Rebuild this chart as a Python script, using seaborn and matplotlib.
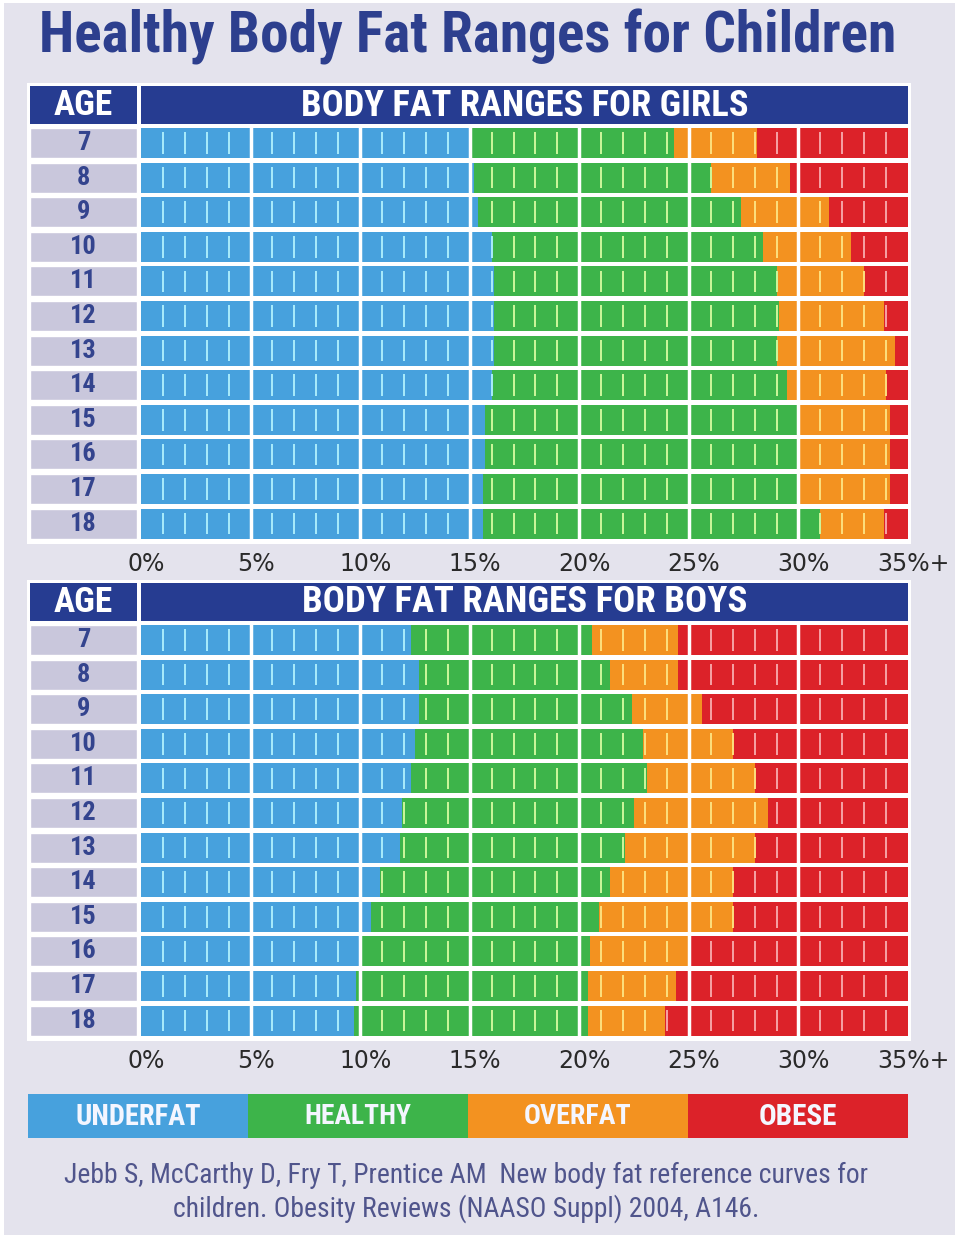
import matplotlib
matplotlib.use('Agg')
import matplotlib.pyplot as plt
import seaborn as sns
import pandas as pd
from matplotlib import font_manager
from matplotlib.patches import Rectangle

# data (body fat %, upper edge of each band)
ages = ['7', '8', '9', '10', '11', '12', '13', '14', '15', '16', '17', '18']
girls_underfat = [15.0, 15.2, 15.4, 16.0, 16.1, 16.1, 16.1, 16.0, 15.7, 15.7, 15.6, 15.6]
girls_healthy = [24.3, 26.0, 27.4, 28.4, 29.0, 29.1, 29.0, 29.5, 30.0, 30.0, 30.0, 31.0]
girls_overfat = [28.1, 29.6, 31.4, 32.4, 33.0, 33.9, 34.4, 34.0, 34.2, 34.2, 34.2, 33.9]
boys_underfat = [12.3, 12.7, 12.7, 12.5, 12.3, 11.9, 11.8, 10.9, 10.5, 10.0, 9.8, 9.7]
boys_healthy = [20.6, 21.4, 22.4, 22.9, 23.1, 22.5, 22.1, 21.4, 20.9, 20.5, 20.4, 20.4]
boys_overfat = [24.5, 24.5, 25.6, 27.0, 28.0, 28.6, 28.0, 27.0, 27.0, 25.0, 24.4, 23.9]
x_ticks = [0, 5, 10, 15, 20, 25, 30, 35]
x_tick_labels = ['0%', '5%', '10%', '15%', '20%', '25%', '30%', '35%+']
categories = ['UNDERFAT', 'HEALTHY', 'OVERFAT', 'OBESE']

colors = ['#47a1dd', '#3db44a', '#f39220', '#dc2229']
tints = ['#a9ecfb', '#cdf79c', '#fde07e', '#f6a3a6']
navy = '#263c91'
bg = '#e4e3ed'
lavender = '#c9c7dc'

sns.set_theme(style='white')
names = {f.name for f in font_manager.fontManager.ttflist}
narrow = next((n for n in ['Liberation Sans Narrow', 'Roboto Condensed', 'DejaVu Sans']
               if n in names), 'DejaVu Sans')
plt.rcParams['font.family'] = ['DejaVu Sans']

W, H = 960, 1242
fig = plt.figure(figsize=(W / 100, H / 100), dpi=100, facecolor='white')


def px_axes(x0, y0, x1, y1):
    return fig.add_axes([x0 / W, 1 - y1 / H, (x1 - x0) / W, (y1 - y0) / H])


def px_rect(x0, y0, x1, y1, color, z=0):
    fig.add_artist(Rectangle((x0 / W, 1 - y1 / H), (x1 - x0) / W, (y1 - y0) / H,
                             transform=fig.transFigure, color=color, zorder=z, lw=0))


def px_text(x, y, s, **kw):
    return fig.text(x / W, 1 - y / H, s, ha='center', va='center', **kw)


def fit(t, width):
    r = fig.canvas.get_renderer()
    w = t.get_window_extent(r).width
    t.set_fontsize(t.get_fontsize() * width / w)


px_rect(4, 3, 955, 1235, bg, z=-5)

title = px_text(468, 37, 'Healthy Body Fat Ranges for Children', color='#2d3f8e',
                fontweight='bold', family=narrow, fontstretch='condensed', fontsize=34)
fit(title, 857)


def draw_panel(top, heading, under, healthy, over):
    # white frame and header
    px_rect(27, top - 3, 911, top + 458, 'white', z=-4)
    px_rect(30, top, 137, top + 38, navy, z=-3)
    px_rect(141, top, 908, top + 38, navy, z=-3)
    t = px_text(83.5, top + 19.5, 'AGE', color='white', fontsize=19, fontweight='bold',
                family=narrow, fontstretch='condensed')
    fit(t, 59)
    t = px_text(524.5, top + 19.5, heading, color='white', fontweight='bold',
                family=narrow, fontstretch='condensed', fontsize=19)
    fit(t, 446)

    y0, y1 = top + 39.7, top + 39.7 + 34.6 * len(ages)
    df = pd.DataFrame({'age': ages, 'underfat': under, 'healthy': healthy,
                       'overfat': over, 'obese': [x_ticks[-1]] * len(ages)})

    # age column
    age_ax = px_axes(30, y0, 137, y1)
    sns.barplot(data=df, x=[1] * len(ages), y='age', order=ages, orient='h',
                color=lavender, saturation=1, width=0.867, errorbar=None, ax=age_ax)
    age_ax.set_xlim(0, 1)
    age_ax.set_ylim(len(ages) - 0.5, -0.5)
    age_ax.set_facecolor('white')
    age_ax.axis('off')
    for i, a in enumerate(ages):
        age_ax.text(0.5, i, a, ha='center', va='center', color='#34448e',
                    fontsize=19, fontweight='bold', family=narrow)

    # stacked bands drawn back to front
    ax = px_axes(141, y0, 908, y1)
    for col, c in zip(['obese', 'overfat', 'healthy', 'underfat'], colors[::-1]):
        sns.barplot(data=df, x=col, y='age', order=ages, orient='h', color=c,
                    saturation=1, width=0.867, errorbar=None, ax=ax, linewidth=0)
    ax.set_xlim(x_ticks[0], x_ticks[-1])
    ax.set_ylim(len(ages) - 0.5, -0.5)
    ax.set_facecolor('white')
    for s in ax.spines.values():
        s.set_visible(False)
    ax.set_xlabel('')
    ax.set_ylabel('')
    ax.set_yticks([])
    ax.vlines(x_ticks[1:-1], -0.5, len(ages) - 0.5, color='white', lw=2.5, zorder=5)

    # 1% minor ticks, tinted by the band they sit in
    xs, ymin, ymax, cs = [], [], [], []
    for i in range(len(ages)):
        edges = [under[i], healthy[i], over[i]]
        for k in range(x_ticks[0] + 1, x_ticks[-1]):
            if k % 5 == 0:
                continue
            band = sum(k > e for e in edges)
            xs.append(k)
            ymin.append(i - 0.31)
            ymax.append(i + 0.31)
            cs.append(tints[band])
    ax.vlines(xs, ymin, ymax, colors=cs, lw=1.4, zorder=4)

    ax.set_xticks(x_ticks)
    ax.set_xticklabels(x_tick_labels)
    ax.tick_params(axis='x', length=0, pad=8, labelsize=17, labelcolor='#2a2a2a')
    off = matplotlib.transforms.ScaledTranslation(5 / 100, 0, fig.dpi_scale_trans)
    for lab in ax.get_xticklabels():
        lab.set_transform(lab.get_transform() + off)


draw_panel(86, 'BODY FAT RANGES FOR GIRLS', girls_underfat, girls_healthy, girls_overfat)
draw_panel(583, 'BODY FAT RANGES FOR BOYS', boys_underfat, boys_healthy, boys_overfat)

# legend bar
leg_ax = px_axes(28, 1094, 908, 1138)
leg = pd.DataFrame({'category': categories, 'value': [1] * len(categories)})
sns.barplot(data=leg, x='category', y='value', hue='category', palette=colors,
            saturation=1, width=1, legend=False, ax=leg_ax, linewidth=0)
leg_ax.set_ylim(0, 1)
leg_ax.axis('off')
leg_widths = [126, 107, 108, 79]
for i, (name, w) in enumerate(zip(categories, leg_widths)):
    t = px_text(138 + 220 * i, 1117, name, color='#f4f6ff', fontweight='bold',
                family=narrow, fontstretch='condensed', fontsize=17)
    fit(t, w)

c1 = px_text(466.5, 1175, 'Jebb S, McCarthy D, Fry T, Prentice AM  New body fat reference curves for',
             color='#50558c', family=narrow, fontstretch='condensed', fontsize=16)
fit(c1, 807)
c2 = px_text(466.5, 1209, 'children. Obesity Reviews (NAASO Suppl) 2004, A146.',
             color='#50558c', family=narrow, fontstretch='condensed', fontsize=c1.get_fontsize())

fig.savefig('out.png', dpi=100, facecolor=fig.get_facecolor())
